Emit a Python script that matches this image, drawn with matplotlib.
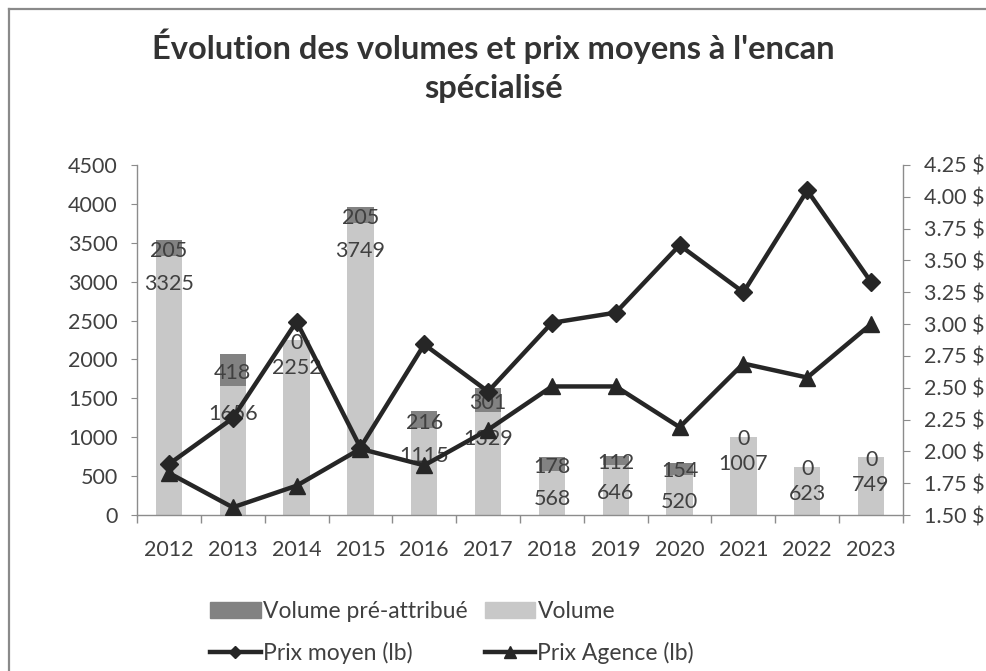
import matplotlib
matplotlib.use("Agg")
import matplotlib.pyplot as plt
from matplotlib.patches import Patch
from matplotlib.lines import Line2D
from matplotlib.ticker import FuncFormatter, MultipleLocator, FixedLocator

plt.rcParams["font.family"] = ["Lato", "DejaVu Sans"]

# ==============================
# DATA
# ==============================

years = ["2012", "2013", "2014", "2015", "2016", "2017",
         "2018", "2019", "2020", "2021", "2022", "2023"]
volume = [3325, 1656, 2252, 3749, 1115, 1329, 568, 646, 520, 1007, 623, 749]
volume_pre = [205, 418, 0, 205, 216, 301, 178, 112, 154, 0, 0, 0]
prix_moyen = [1.90, 2.26, 3.02, 2.03, 2.84, 2.47, 3.01, 3.09, 3.62, 3.25, 4.05, 3.33]
prix_agence = [1.83, 1.56, 1.73, 2.02, 1.89, 2.17, 2.51, 2.51, 2.19, 2.69, 2.58, 3.00]

TITLE = "Évolution des volumes et prix moyens à l'encan\nspécialisé"

DARK = "#262626"
TXT = "#404040"
AXIS = "#8c8c8c"
C_LIGHT = "#c8c8c8"
C_DARK = "#828282"
FS = 15.5


# ==============================
# PLOT
# ==============================

def draw_bars(ax, x):
    ax.bar(x, volume, width=0.41, color=C_LIGHT, zorder=2)
    ax.bar(x, volume_pre, width=0.41, bottom=volume, color=C_DARK, zorder=2)

    for xi, v, p in zip(x, volume, volume_pre):
        ax.annotate(str(v), (xi, v), xytext=(0, -20), textcoords="offset points",
                    ha="center", va="center", fontsize=FS, color=TXT, zorder=3)
        ax.annotate(str(p), (xi, v + p / 2), xytext=(0, -2), textcoords="offset points",
                    ha="center", va="center", fontsize=FS, color=TXT, zorder=3)


def draw_lines(ax2, x):
    ax2.plot(x, prix_moyen, color=DARK, lw=3.2, marker="D", ms=9, zorder=4)
    ax2.plot(x, prix_agence, color=DARK, lw=3.2, marker="^", ms=12, zorder=4)


def style_axes(ax, ax2, x):
    ax.set_xlim(-0.5, len(years) - 0.5)
    ax.set_ylim(0, 4500)
    ax.yaxis.set_major_locator(MultipleLocator(500))
    ax2.set_ylim(1.5, 4.25)
    ax2.yaxis.set_major_locator(MultipleLocator(0.25))
    ax2.yaxis.set_major_formatter(FuncFormatter(lambda v, _: f"{v:.2f} $"))

    ax.set_xticks(x)
    ax.set_xticklabels(years)
    ax.xaxis.set_minor_locator(FixedLocator([i - 0.5 for i in range(len(years) + 1)]))
    ax.tick_params(axis="x", which="major", length=0, pad=18, labelsize=FS, labelcolor=TXT)
    ax.tick_params(axis="x", which="minor", length=6, color=AXIS, width=1)
    ax.tick_params(axis="y", length=4, pad=10, color=AXIS, labelsize=FS, labelcolor=TXT)
    ax2.tick_params(axis="y", length=5, pad=10, color=AXIS, labelsize=FS, labelcolor=TXT)

    for a in (ax, ax2):
        a.spines["top"].set_visible(False)
        for s in ("left", "right", "bottom"):
            a.spines[s].set_color(AXIS)
            a.spines[s].set_linewidth(1)
    ax.spines["right"].set_visible(False)
    ax2.spines["left"].set_visible(False)
    ax2.spines["bottom"].set_visible(False)


def add_legend(fig):
    handles = [
        Patch(color=C_DARK),
        Line2D([], [], color=DARK, lw=3.2, marker="D", ms=6),
        Patch(color=C_LIGHT),
        Line2D([], [], color=DARK, lw=3.2, marker="^", ms=8),
    ]
    labels = ["Volume pré-attribué", "Prix moyen (lb)", "Volume", "Prix Agence (lb)"]
    fig.legend(handles, labels, loc="upper left", bbox_to_anchor=(0.213, 0.104),
               ncol=2, frameon=False, fontsize=16.5, labelcolor=TXT,
               handlelength=2.2, handletextpad=0.1, columnspacing=0.75,
               labelspacing=0.85, borderpad=0, borderaxespad=0)


def draw_frame(fig):
    # only the top and left edges of the chart frame show in the crop
    x0, y0 = 9 / 987, 1 - 9 / 671
    fig.add_artist(Line2D([x0, 1.0], [y0, y0], transform=fig.transFigure,
                          color="#8a8a8a", lw=1.6))
    fig.add_artist(Line2D([x0, x0], [0.0, y0], transform=fig.transFigure,
                          color="#8a8a8a", lw=1.6))


def main():
    fig = plt.figure(figsize=(9.87, 6.71), dpi=100)
    draw_frame(fig)

    ax = fig.add_axes([137 / 987, 1 - 515 / 671, (903 - 137) / 987, 350 / 671])
    ax2 = ax.twinx()
    x = list(range(len(years)))

    draw_bars(ax, x)
    draw_lines(ax2, x)
    style_axes(ax, ax2, x)
    add_legend(fig)

    fig.text(0.5, 0.958, TITLE, ha="center", va="top", fontsize=23.5,
             fontweight="bold", color="#333333", linespacing=1.45)

    fig.savefig("out.png", dpi=100)
    plt.close(fig)


main()
